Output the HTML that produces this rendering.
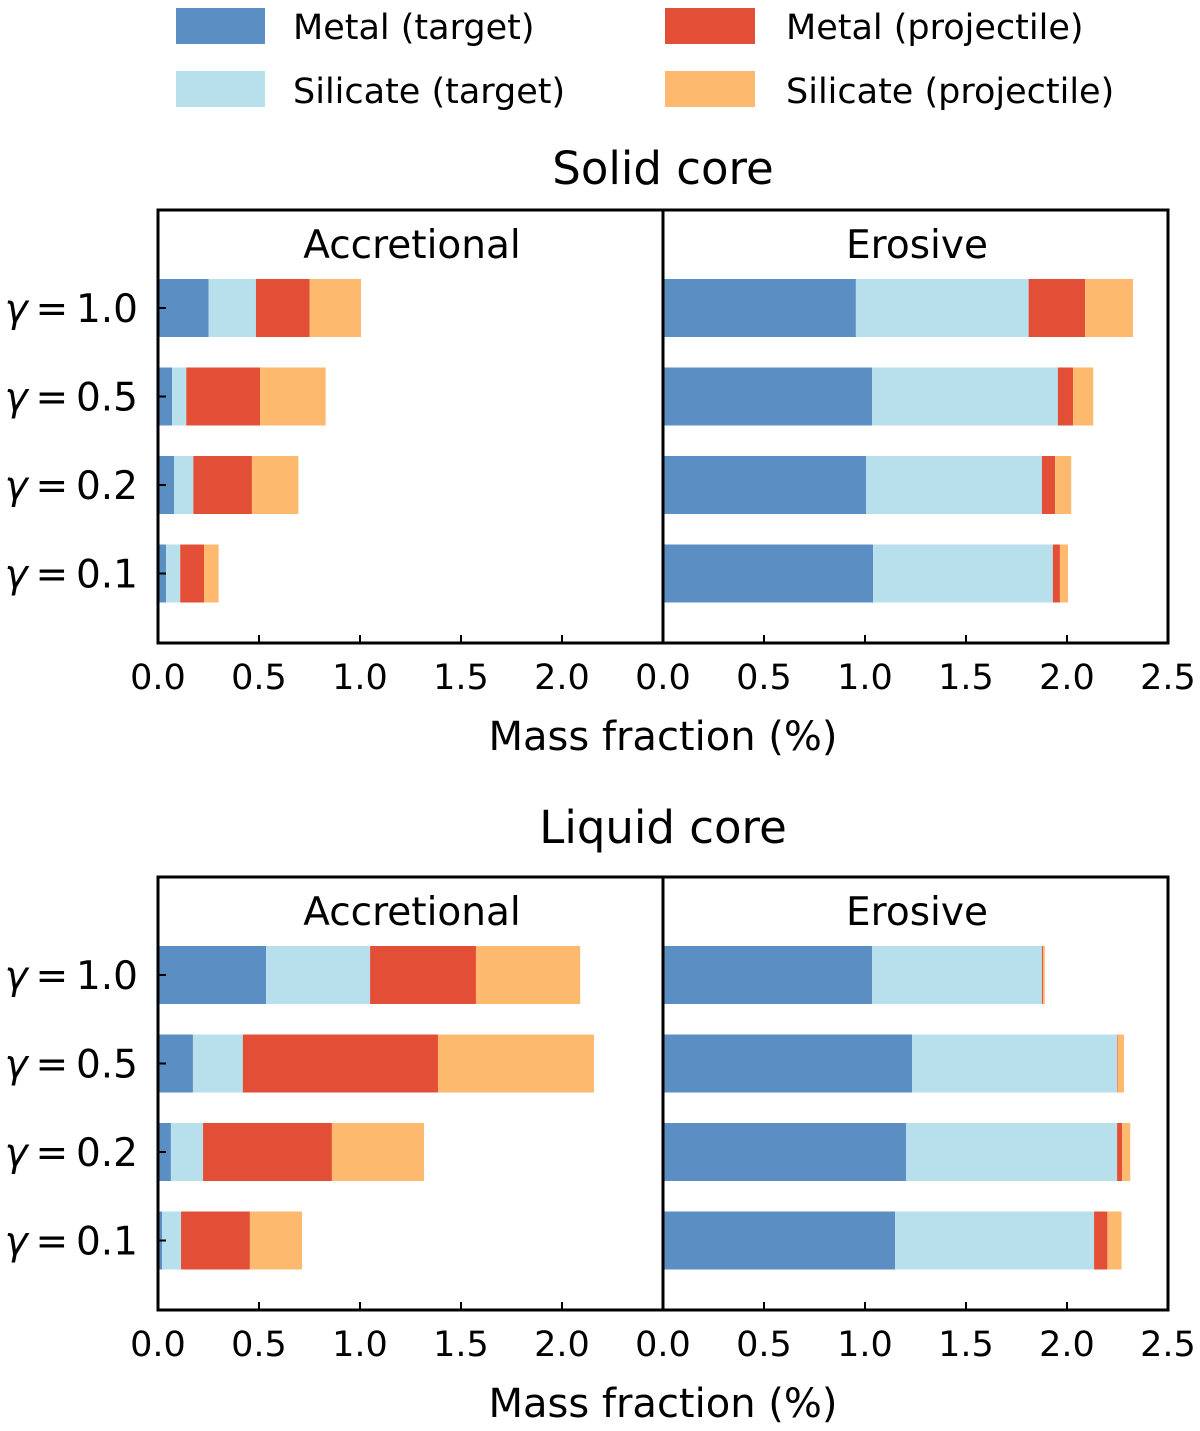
<!DOCTYPE html>
<html><head><meta charset="utf-8"><style>
html,body{margin:0;padding:0;background:#fff;}
svg{display:block;font-family:"DejaVu Sans","Liberation Sans",sans-serif;}
</style></head><body>
<svg id="chart" width="1200" height="1431" viewBox="0 0 1200 1431">
<g>
<rect x="176" y="8" width="89" height="36" fill="#5b8fc3"/>
<text x="293" y="39" font-size="35">Metal (target)</text>
<rect x="176" y="71" width="89" height="36" fill="#b8dfec"/>
<text x="293" y="103" font-size="35">Silicate (target)</text>
<rect x="665" y="8" width="90" height="36" fill="#e34e36"/>
<text x="786" y="39" font-size="35">Metal (projectile)</text>
<rect x="665" y="71" width="90" height="36" fill="#fdb96e"/>
<text x="786" y="103" font-size="35">Silicate (projectile)</text>
</g>
</svg>
<script>
const gammaLabels=["1.0","0.5","0.2","0.1"];
const tickLabels=["0.0","0.5","1.0","1.5","2.0","2.5"];
const tickValues=[0,0.5,1,1.5,2,2.5];
const seriesNames=["metal-target","silicate-target","metal-projectile","silicate-projectile"];
const colors=["#5b8fc3","#b8dfec","#e34e36","#fdb96e"];
// each row: [metal target, silicate target, metal projectile, silicate projectile] in %
const solidAccretional=[[0.25,0.235,0.265,0.255],[0.07,0.07,0.365,0.325],[0.08,0.095,0.29,0.23],[0.04,0.07,0.118,0.072]];
const solidErosive=[[0.955,0.855,0.28,0.237],[1.035,0.92,0.075,0.1],[1.005,0.871,0.065,0.08],[1.04,0.89,0.035,0.04]];
const liquidAccretional=[[0.535,0.515,0.524,0.516],[0.173,0.247,0.966,0.772],[0.064,0.159,0.638,0.456],[0.02,0.094,0.341,0.258]];
const liquidErosive=[[1.035,0.841,0.005,0.009],[1.233,1.015,0.002,0.032],[1.203,1.045,0.025,0.04],[1.149,0.985,0.066,0.07]];

const svg=document.getElementById('chart');
const NS='http://www.w3.org/2000/svg';
function mk(tag,attrs,parent,text){const e=document.createElementNS(NS,tag);for(const k in attrs)e.setAttribute(k,attrs[k]);if(text!==undefined)e.textContent=text;parent.appendChild(e);return e;}
const pxPerUnit=202;
function drawFigure(top,titleY,title,accData,eroData,key){
  const g=mk('g',{},svg);
  
  
  const t=mk('text',{x:663,y:titleY,'font-size':45,'text-anchor':'middle'},g,title);
  
  
  const boxH=433;
  const rowY=i=>top+98+i*88.5;
  const panels=[[158,'Accretional',accData,'accretional'],[663,'Erosive',eroData,'erosive']];
  panels.forEach(([x0,name,data,pk])=>{
    const x=v=>x0+v*pxPerUnit;
    data.forEach((row,i)=>{
      let c=0;
      row.forEach((v,s)=>{
        const r=mk('rect',{x:x(c),y:rowY(i)-29,width:Math.max(0,x(c+v)-x(c)),height:58,fill:colors[s]},g);
        
        
        c+=v;
      });
    });
    const pt=mk('text',{x:x0+254,y:top+48,'font-size':39,'text-anchor':'middle'},g,name);
    
    
    tickValues.forEach((v,j)=>{
      if(x0===158&&j===5)return;
      mk('line',{x1:x(v),x2:x(v),y1:top+boxH,y2:top+boxH-8,stroke:'#000','stroke-width':2},g);
      const tl=mk('text',{x:x(v),y:top+boxH+46,'font-size':35,'text-anchor':'middle'},g,tickLabels[j]);
      
      
    });
  });
  gammaLabels.forEach((gl,i)=>{
    const y=rowY(i);
    mk('line',{x1:158,x2:166,y1:y,y2:y,stroke:'#000','stroke-width':2},g);
    const tl=mk('text',{x:138,y:y+14,'font-size':39,'text-anchor':'end'},g);
    
    
    mk('tspan',{'font-style':'italic'},tl,'γ');
    mk('tspan',{},tl,'\u2009=\u2009'+gl);
  });
  const box=mk('rect',{x:158,y:top,width:1010,height:boxH,fill:'none',stroke:'#000','stroke-width':3},g);
  
  
  mk('line',{x1:663,x2:663,y1:top,y2:top+boxH,stroke:'#000','stroke-width':3},g);
  const xl=mk('text',{x:663,y:top+boxH+107,'font-size':40,'text-anchor':'middle'},g,'Mass fraction (%)');
  
  
}
drawFigure(210,184,'Solid core',solidAccretional,solidErosive,'solid-core');
drawFigure(877,843,'Liquid core',liquidAccretional,liquidErosive,'liquid-core');
</script>
</body></html>
